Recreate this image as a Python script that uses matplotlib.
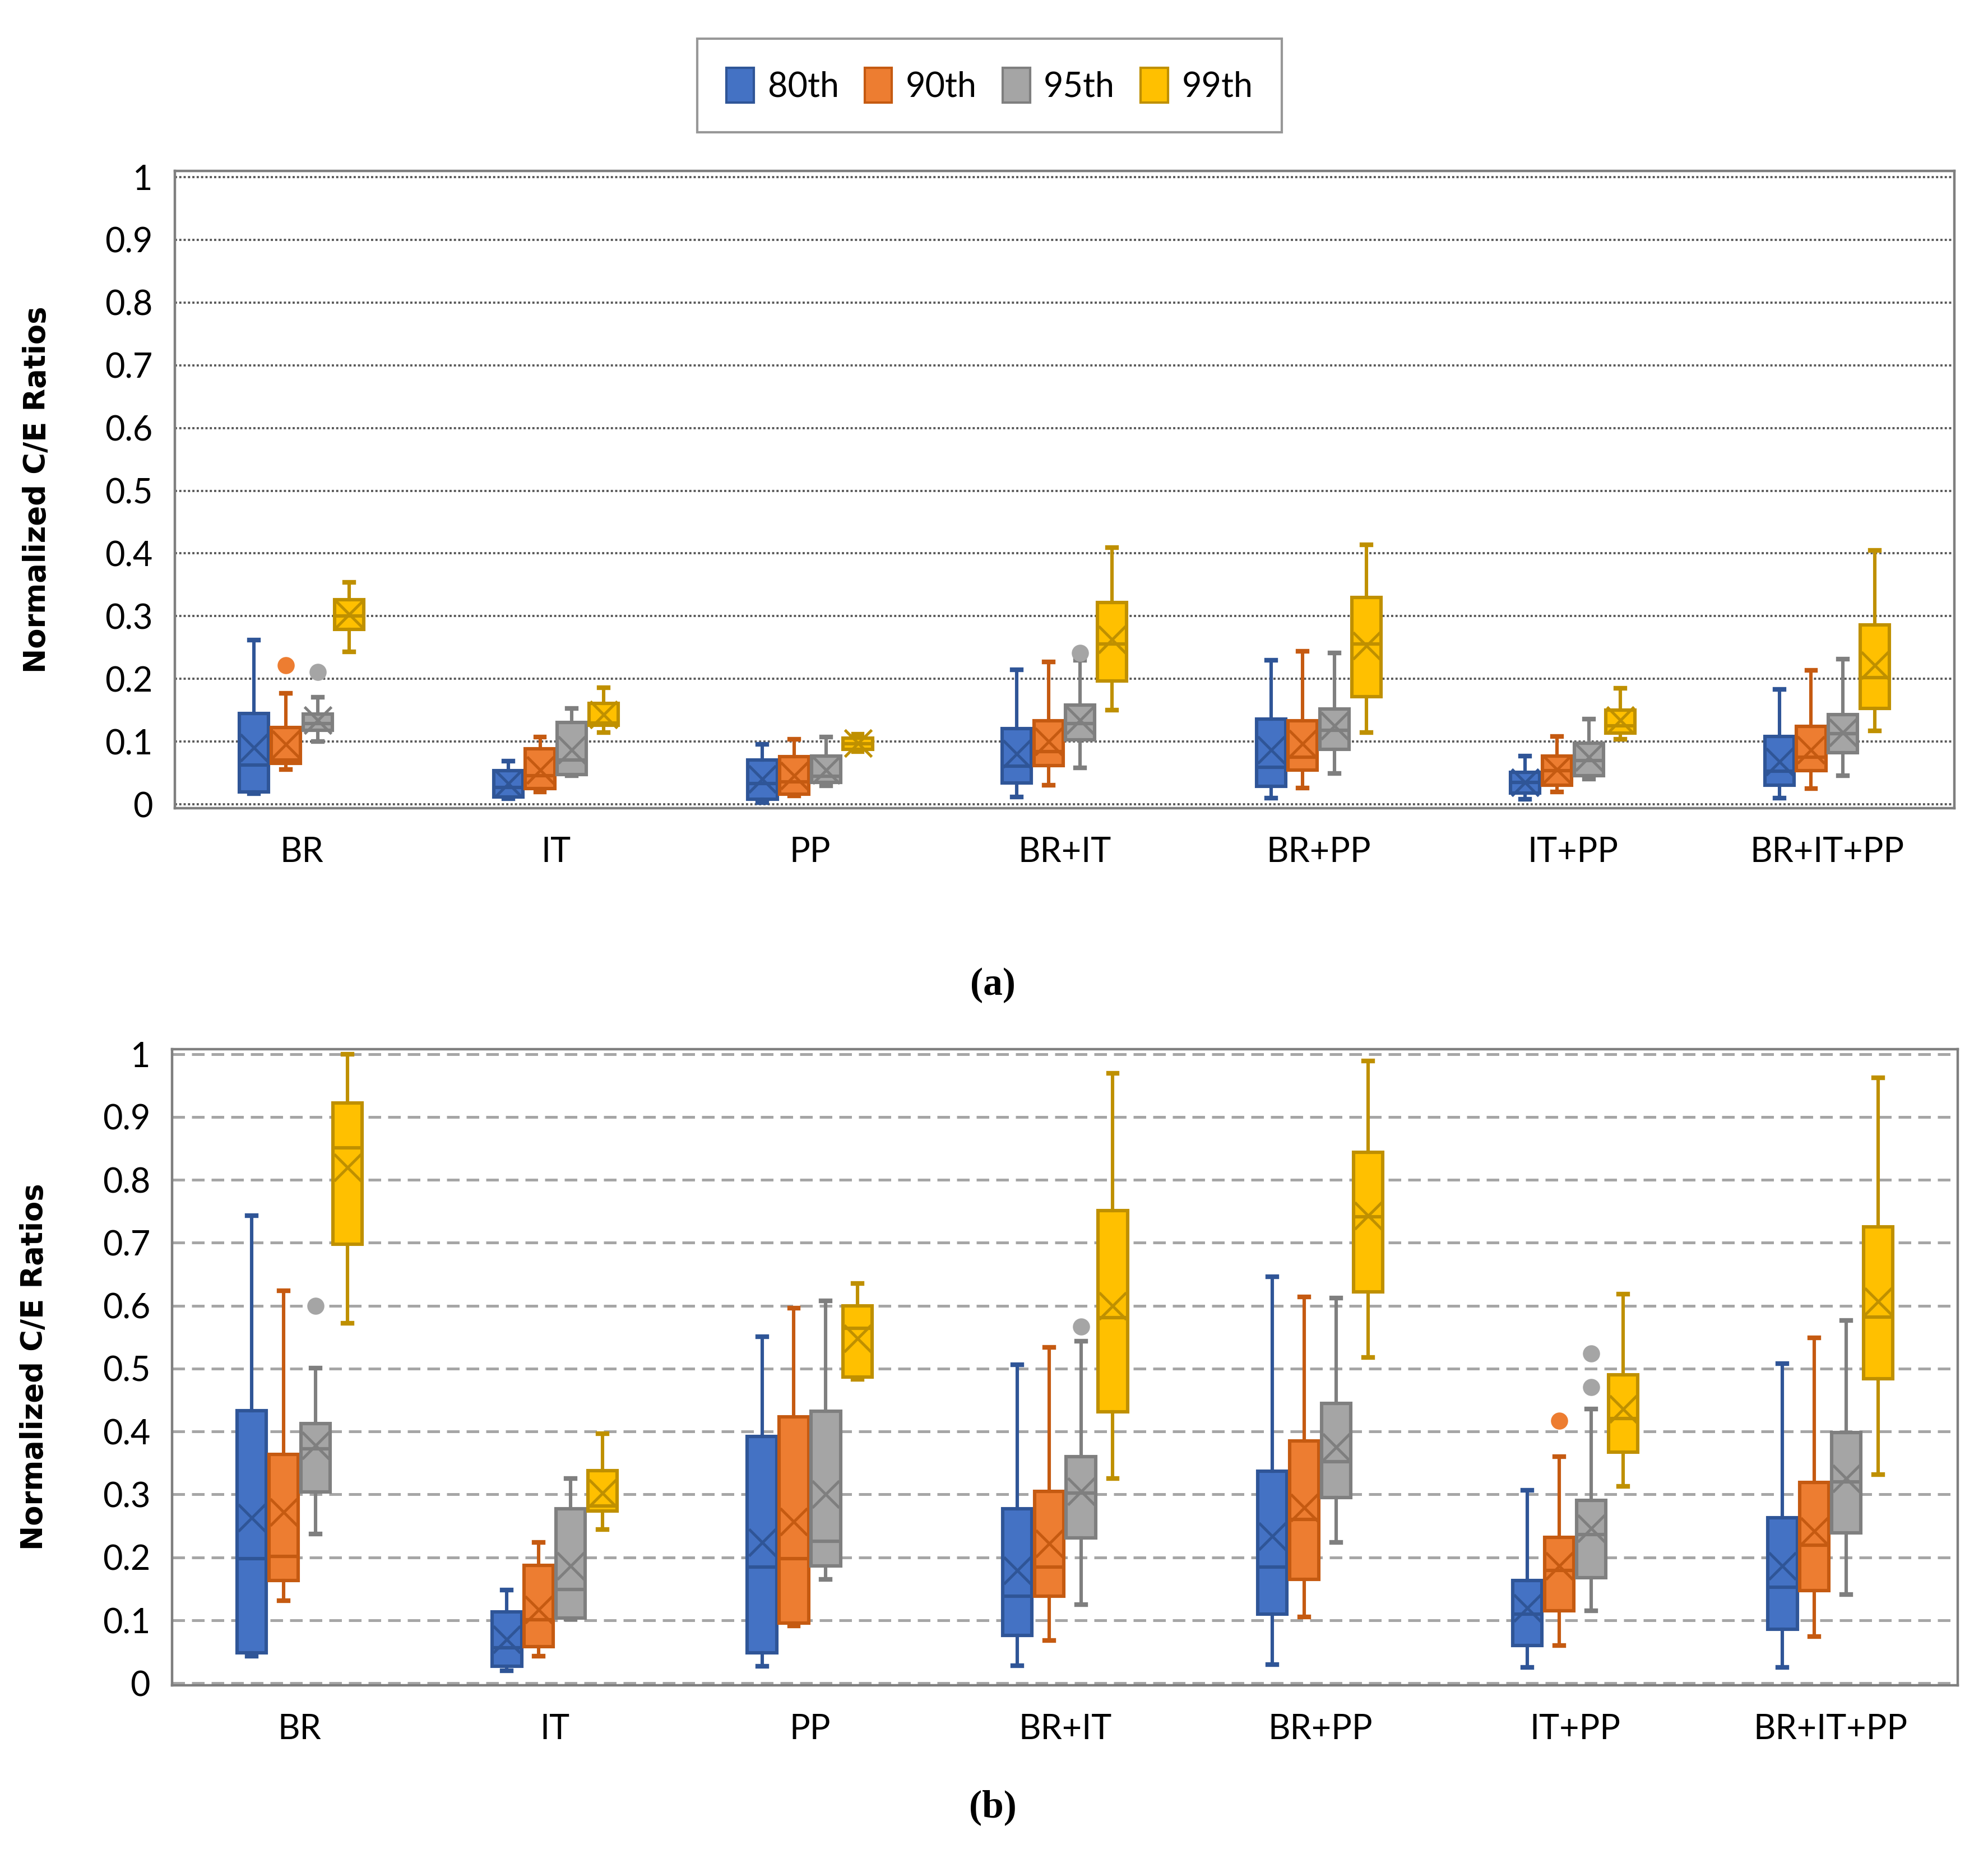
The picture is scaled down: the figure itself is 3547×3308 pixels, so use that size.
import numpy as np
import matplotlib
matplotlib.use("Agg")
from matplotlib import pyplot as plt
from matplotlib.patches import Patch

categories = ["BR", "IT", "PP", "BR+IT", "BR+PP", "IT+PP", "BR+IT+PP"]
series = ["80th", "90th", "95th", "99th"]
fills = ["#4472C4", "#ED7D31", "#A5A5A5", "#FFC000"]
edges = ["#2F5597", "#C55A11", "#7F7F7F", "#BF9000"]

# panel (a): rows = series, cols = categories
a_lo = [[0.017, 0.009, 0.003, 0.012, 0.010, 0.008, 0.010],
        [0.056, 0.020, 0.014, 0.031, 0.026, 0.020, 0.025],
        [0.100, 0.046, 0.030, 0.058, 0.049, 0.040, 0.046],
        [0.243, 0.115, 0.084, 0.150, 0.115, 0.104, 0.117]]
a_q1 = [[0.020, 0.012, 0.008, 0.034, 0.029, 0.018, 0.031],
        [0.065, 0.025, 0.016, 0.062, 0.055, 0.031, 0.054],
        [0.118, 0.048, 0.035, 0.103, 0.088, 0.046, 0.082],
        [0.279, 0.126, 0.088, 0.197, 0.172, 0.114, 0.153]]
a_med = [[0.063, 0.027, 0.033, 0.061, 0.059, 0.035, 0.053],
         [0.071, 0.046, 0.036, 0.084, 0.075, 0.054, 0.075],
         [0.129, 0.071, 0.045, 0.129, 0.118, 0.070, 0.113],
         [0.300, 0.130, 0.097, 0.256, 0.256, 0.125, 0.202]]
a_q3 = [[0.145, 0.054, 0.071, 0.121, 0.136, 0.051, 0.108],
        [0.123, 0.089, 0.076, 0.133, 0.133, 0.077, 0.124],
        [0.144, 0.131, 0.077, 0.158, 0.152, 0.098, 0.143],
        [0.326, 0.161, 0.106, 0.322, 0.330, 0.150, 0.286]]
a_hi = [[0.262, 0.069, 0.096, 0.215, 0.230, 0.077, 0.183],
        [0.177, 0.107, 0.104, 0.227, 0.244, 0.108, 0.214],
        [0.171, 0.153, 0.107, 0.230, 0.241, 0.136, 0.232],
        [0.354, 0.186, 0.112, 0.409, 0.414, 0.185, 0.405]]
a_mean = [[0.090, 0.033, 0.040, 0.081, 0.087, 0.035, 0.068],
          [0.096, 0.055, 0.046, 0.100, 0.097, 0.056, 0.087],
          [0.134, 0.087, 0.055, 0.134, 0.125, 0.075, 0.115],
          [0.303, 0.143, 0.098, 0.263, 0.253, 0.134, 0.222]]
a_out = [[[], [], [], [], [], [], []],
         [[0.222], [], [], [], [], [], []],
         [[0.211], [], [], [0.241], [], [], []],
         [[], [], [], [], [], [], []]]

# panel (b)
b_lo = [[0.043, 0.020, 0.027, 0.028, 0.030, 0.025, 0.025],
        [0.131, 0.043, 0.091, 0.068, 0.105, 0.060, 0.074],
        [0.237, 0.102, 0.165, 0.125, 0.224, 0.115, 0.141],
        [0.572, 0.244, 0.483, 0.325, 0.518, 0.313, 0.332]]
b_q1 = [[0.048, 0.027, 0.048, 0.076, 0.110, 0.060, 0.086],
        [0.163, 0.058, 0.096, 0.138, 0.165, 0.115, 0.147],
        [0.304, 0.104, 0.186, 0.231, 0.295, 0.168, 0.239],
        [0.698, 0.274, 0.487, 0.431, 0.622, 0.367, 0.484]]
b_med = [[0.198, 0.056, 0.185, 0.138, 0.185, 0.110, 0.153],
         [0.202, 0.101, 0.198, 0.185, 0.260, 0.179, 0.219],
         [0.373, 0.149, 0.226, 0.302, 0.352, 0.236, 0.320],
         [0.851, 0.282, 0.564, 0.581, 0.741, 0.421, 0.582]]
b_q3 = [[0.433, 0.113, 0.392, 0.277, 0.337, 0.163, 0.263],
        [0.364, 0.187, 0.423, 0.305, 0.385, 0.232, 0.319],
        [0.413, 0.277, 0.432, 0.360, 0.445, 0.291, 0.398],
        [0.922, 0.338, 0.600, 0.751, 0.844, 0.490, 0.725]]
b_hi = [[0.743, 0.148, 0.551, 0.506, 0.646, 0.307, 0.508],
        [0.624, 0.224, 0.596, 0.534, 0.614, 0.360, 0.549],
        [0.501, 0.325, 0.608, 0.544, 0.612, 0.436, 0.577],
        [1.000, 0.397, 0.635, 0.969, 0.989, 0.618, 0.962]]
b_mean = [[0.263, 0.070, 0.224, 0.179, 0.234, 0.120, 0.186],
          [0.272, 0.117, 0.257, 0.222, 0.279, 0.186, 0.242],
          [0.378, 0.186, 0.300, 0.305, 0.375, 0.246, 0.325],
          [0.820, 0.302, 0.548, 0.600, 0.743, 0.436, 0.607]]
b_out = [[[], [], [], [], [], [], []],
         [[], [], [], [], [], [0.417], []],
         [[0.600], [], [], [0.567], [], [0.471, 0.524], []],
         [[], [], [], [], [], [], []]]

offsets = [-0.1875, -0.0625, 0.0625, 0.1875]
box_w = 0.115

plt.rcParams['font.family'] = ['Lato', 'DejaVu Sans']

fig = plt.figure(figsize=(17.74, 16.54), dpi=200)
ax_a = fig.add_axes([0.0878, 0.5641, 0.8949, 0.3438])
ax_b = fig.add_axes([0.0865, 0.0911, 0.8981, 0.3431])


def draw_panel(ax, lo, q1, med, q3, hi, mean, out, grid_style):
    for s in range(4):
        stats = []
        for c in range(len(categories)):
            stats.append(dict(whislo=lo[s][c], q1=q1[s][c], med=med[s][c],
                              q3=q3[s][c], whishi=hi[s][c], mean=mean[s][c],
                              fliers=out[s][c]))
        pos = np.arange(len(categories)) + offsets[s]
        ax.bxp(stats, positions=pos, widths=box_w, patch_artist=True,
               showmeans=True, capwidths=0.035,
               boxprops=dict(facecolor=fills[s], edgecolor=edges[s], linewidth=2.2),
               medianprops=dict(color=edges[s], linewidth=2.2),
               whiskerprops=dict(color=edges[s], linewidth=2.2),
               capprops=dict(color=edges[s], linewidth=3),
               meanprops=dict(marker='x', markersize=17, markeredgecolor=edges[s],
                              markeredgewidth=1.8),
               flierprops=dict(marker='o', markersize=10, markerfacecolor=fills[s],
                               markeredgecolor=fills[s]))
    ax.set_xlim(-0.5, len(categories) - 0.5)
    ax.set_xticks(np.arange(len(categories)))
    ax.set_xticklabels(categories, fontsize=22)
    yt = np.round(np.arange(0, 1.01, 0.1), 1)
    ax.set_yticks(yt)
    ax.set_yticklabels(["0"] + ["%.1f" % v for v in yt[1:-1]] + ["1"], fontsize=22)
    ax.tick_params(length=0)
    ax.tick_params(axis='x', pad=18)
    ax.tick_params(axis='y', pad=14)
    ax.set_axisbelow(True)
    if grid_style == 'dot':
        ax.yaxis.grid(True, linestyle=(0, (1, 1)), color='#595959', linewidth=1.4)
    else:
        ax.yaxis.grid(True, linestyle=(0, (4.5, 2.5)), color='#A6A6A6', linewidth=1.8)
    for sp in ax.spines.values():
        sp.set_color('#7F7F7F')
        sp.set_linewidth(1.6)
    ax.set_ylabel("Normalized C/E Ratios", family='DejaVu Sans', fontweight='bold',
                  fontsize=19)
    ax.yaxis.set_label_coords(-0.069, 0.5)


draw_panel(ax_a, a_lo, a_q1, a_med, a_q3, a_hi, a_mean, a_out, 'dot')
ax_a.set_ylim(-0.006, 1.010)
draw_panel(ax_b, b_lo, b_q1, b_med, b_q3, b_hi, b_mean, b_out, 'dash')
ax_b.set_ylim(-0.003, 1.008)

handles = [Patch(facecolor=fills[i], edgecolor=edges[i], linewidth=1.5) for i in range(4)]
leg = fig.legend(handles, series, loc='center', bbox_to_anchor=(0.4977, 0.954),
                 ncol=4, fontsize=22, frameon=True, fancybox=False,
                 handlelength=0.8, handleheight=1.2, handletextpad=0.4,
                 columnspacing=0.75, borderpad=0.85)
leg.get_frame().set_edgecolor('#7F7F7F')
leg.get_frame().set_linewidth(1.5)

fig.text(0.4994, 0.4685, "(a)", ha='center', va='center', fontsize=25,
         family='Liberation Serif', fontweight='bold')
fig.text(0.4994, 0.0251, "(b)", ha='center', va='center', fontsize=25,
         family='Liberation Serif', fontweight='bold')

fig.savefig("out.png", dpi=200)
